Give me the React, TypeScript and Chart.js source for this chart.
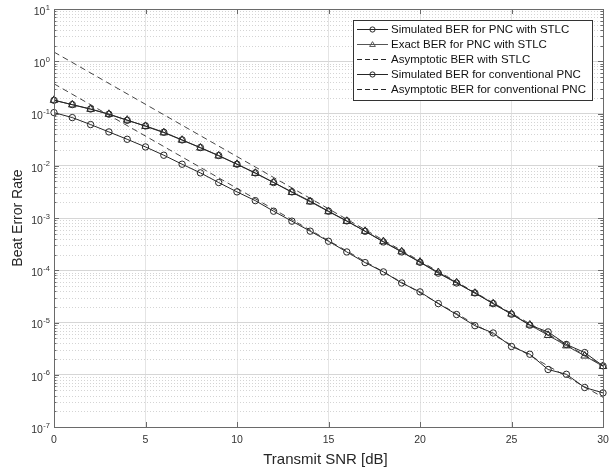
import { useEffect, useRef } from 'react';
import { Chart, registerables } from 'chart.js';

Chart.register(...registerables);

// ---------- data ----------
const snr = [0, 1, 2, 3, 4, 5, 6, 7, 8, 9, 10, 11, 12, 13, 14, 15, 16, 17, 18, 19, 20, 21, 22, 23, 24, 25, 26, 27, 28, 29, 30];

const simSTLC = [
  0.179, 0.148, 0.122, 0.097, 0.074, 0.0578, 0.0438, 0.0312, 0.0223, 0.0157,
  0.0107, 0.0073, 0.00477, 0.00316, 0.0021, 0.00135, 8.8e-4, 5.57e-4, 3.48e-4, 2.24e-4,
  1.42e-4, 8.8e-5, 5.7e-5, 3.68e-5, 2.3e-5, 1.44e-5, 8.9e-6, 6.6e-6, 3.8e-6, 2.66e-6,
  1.48e-6,
];

const exactSTLC = [
  0.18, 0.147, 0.121, 0.097, 0.075, 0.057, 0.043, 0.031, 0.022, 0.0155,
  0.0107, 0.0072, 0.0048, 0.0031, 0.00205, 0.00133, 8.7e-4, 5.6e-4, 3.55e-4, 2.27e-4,
  1.44e-4, 9.1e-5, 5.8e-5, 3.65e-5, 2.3e-5, 1.46e-5, 9.0e-6, 5.7e-6, 3.6e-6, 2.3e-6,
  1.45e-6,
];

const simConv = [
  0.104, 0.0835, 0.0614, 0.0444, 0.0321, 0.0229, 0.0159, 0.0107, 0.0073, 0.00477,
  0.00316, 0.00215, 0.00135, 8.7e-4, 5.6e-4, 3.59e-4, 2.24e-4, 1.4e-4, 9.3e-5, 5.7e-5,
  3.85e-5, 2.3e-5, 1.42e-5, 8.7e-6, 6.3e-6, 3.47e-6, 2.47e-6, 1.26e-6, 1.02e-6, 5.7e-7,
  4.5e-7,
];

const asymX = [0, 30];
const asymSTLC = [1.5, 1.5e-6];
const asymConv = [0.37, 3.7e-7];

const xTicks = [0, 5, 10, 15, 20, 25, 30];
const yDecades = [-7, -6, -5, -4, -3, -2, -1, 0, 1];
const yMinorMult = [2, 3, 4, 5, 6, 7, 8, 9];

const legendLabels = [
  'Simulated BER for PNC with STLC',
  'Exact BER for PNC with STLC',
  'Asymptotic BER with STLC',
  'Simulated BER for conventional PNC',
  'Asymptotic BER for conventional PNC',
];

const xTitle = 'Transmit SNR [dB]';
const yTitle = 'Beat Error Rate';

const FONT = "'Liberation Sans', Arial, Helvetica, sans-serif";
const LINE = '#262626';
const AXIS = '#6a6a6a';
const TEXT = '#333333';

const pts = (xs: number[], ys: number[]) => xs.map((x, i) => ({ x, y: ys[i] }));

type LegendItem = { label: string; dash: boolean; marker: 'circle' | 'triangle' | null; color: string };

const legendItems: LegendItem[] = [
  { label: legendLabels[0], dash: false, marker: 'circle', color: LINE },
  { label: legendLabels[1], dash: false, marker: 'triangle', color: '#555555' },
  { label: legendLabels[2], dash: true, marker: null, color: LINE },
  { label: legendLabels[3], dash: false, marker: 'circle', color: LINE },
  { label: legendLabels[4], dash: true, marker: null, color: LINE },
];

function drawMarker(ctx: CanvasRenderingContext2D, kind: 'circle' | 'triangle', x: number, y: number, r: number) {
  ctx.beginPath();
  if (kind === 'circle') {
    ctx.arc(x, y, r, 0, Math.PI * 2);
  } else {
    ctx.moveTo(x, y - r * 1.1);
    ctx.lineTo(x + r * 1.1, y + r * 0.75);
    ctx.lineTo(x - r * 1.1, y + r * 0.75);
    ctx.closePath();
  }
  ctx.stroke();
}

const matlabPlugin = {
  id: 'matlabStyle',
  beforeDatasetsDraw(chart: any) {
    const { ctx, chartArea } = chart;
    const ys = chart.scales.y;
    ctx.save();
    ctx.strokeStyle = '#d4d4d4';
    ctx.lineWidth = 1;
    ctx.setLineDash([1, 2]);
    for (const e of yDecades) {
      if (e >= 1) continue;
      for (const m of yMinorMult) {
        const py = Math.round(ys.getPixelForValue(m * Math.pow(10, e))) + 0.5;
        ctx.beginPath();
        ctx.moveTo(chartArea.left, py);
        ctx.lineTo(chartArea.right, py);
        ctx.stroke();
      }
    }
    ctx.restore();
  },
  afterDraw(chart: any) {
    const { ctx, chartArea } = chart;
    const xs = chart.scales.x;
    const ys = chart.scales.y;
    const { left, right, top, bottom } = chartArea;
    ctx.save();

    // axes box
    ctx.strokeStyle = AXIS;
    ctx.lineWidth = 1;
    ctx.setLineDash([]);
    ctx.strokeRect(Math.round(left) + 0.5, Math.round(top) + 0.5, Math.round(right - left), Math.round(bottom - top));

    // ticks
    ctx.beginPath();
    for (const t of xTicks) {
      const px = Math.round(xs.getPixelForValue(t)) + 0.5;
      ctx.moveTo(px, bottom);
      ctx.lineTo(px, bottom - 5);
      ctx.moveTo(px, top);
      ctx.lineTo(px, top + 5);
    }
    for (const e of yDecades) {
      const py = Math.round(ys.getPixelForValue(Math.pow(10, e))) + 0.5;
      ctx.moveTo(left, py);
      ctx.lineTo(left + 5, py);
      ctx.moveTo(right, py);
      ctx.lineTo(right - 5, py);
      if (e < 1) {
        for (const m of yMinorMult) {
          const pm = Math.round(ys.getPixelForValue(m * Math.pow(10, e))) + 0.5;
          ctx.moveTo(left, pm);
          ctx.lineTo(left + 2.5, pm);
          ctx.moveTo(right, pm);
          ctx.lineTo(right - 2.5, pm);
        }
      }
    }
    ctx.stroke();

    // x tick labels
    ctx.fillStyle = TEXT;
    ctx.font = `10.5px ${FONT}`;
    ctx.textAlign = 'center';
    ctx.textBaseline = 'middle';
    for (const t of xTicks) {
      ctx.fillText(String(t), xs.getPixelForValue(t), bottom + 13);
    }

    // y tick labels 10^e
    const labelRight = left - 4;
    for (const e of yDecades) {
      const py = ys.getPixelForValue(Math.pow(10, e));
      const sup = e < 0 ? '-' + String(-e) : String(e);
      ctx.font = `7.5px ${FONT}`;
      const sw = ctx.measureText(sup).width;
      ctx.textAlign = 'left';
      ctx.textBaseline = 'middle';
      ctx.fillText(sup, labelRight - sw, py - 1.5);
      ctx.font = `10.5px ${FONT}`;
      ctx.textAlign = 'right';
      ctx.fillText('10', labelRight - sw - 0.5, py + 3);
    }

    // axis titles
    ctx.font = `15px ${FONT}`;
    ctx.textAlign = 'center';
    ctx.textBaseline = 'middle';
    ctx.fillStyle = '#262626';
    ctx.fillText(xTitle, (left + right) / 2 - 3, 460);
    ctx.save();
    ctx.translate(18, (top + bottom) / 2);
    ctx.rotate(-Math.PI / 2);
    ctx.font = `14px ${FONT}`;
    ctx.fillText(yTitle, 0, 0);
    ctx.restore();

    // legend
    const lx = 353.5, ly = 20.5, lw = 239, lh = 80;
    ctx.fillStyle = '#ffffff';
    ctx.fillRect(lx, ly, lw, lh);
    ctx.strokeStyle = '#333333';
    ctx.lineWidth = 1;
    ctx.strokeRect(lx, ly, lw, lh);
    ctx.font = `11.5px ${FONT}`;
    ctx.textAlign = 'left';
    ctx.textBaseline = 'middle';
    legendItems.forEach((it, i) => {
      const y = Math.round(ly + 8.5 + i * 15) + 0.5;
      ctx.strokeStyle = it.color;
      ctx.lineWidth = 1;
      ctx.setLineDash(it.dash ? [5, 3] : []);
      ctx.beginPath();
      ctx.moveTo(357, y);
      ctx.lineTo(388, y);
      ctx.stroke();
      ctx.setLineDash([]);
      if (it.marker) {
        ctx.fillStyle = '#ffffff';
        drawMarker(ctx, it.marker, 372.5, y, 2.6);
      }
      ctx.fillStyle = '#111111';
      ctx.fillText(it.label, 391, y + 0.5);
    });

    ctx.restore();
  },
};

export default function App() {
  const ref = useRef<HTMLCanvasElement>(null);

  useEffect(() => {
    const canvas = ref.current;
    if (!canvas) return;
    const chart = new Chart(canvas, {
      type: 'line',
      data: {
        datasets: [
          {
            label: legendLabels[0],
            data: pts(snr, simSTLC),
            borderColor: LINE,
            borderWidth: 1,
            pointStyle: 'circle',
            pointRadius: 3.2,
            pointBorderWidth: 1,
            pointBorderColor: LINE,
            pointBackgroundColor: 'rgba(0,0,0,0)',
            clip: false as any,
          },
          {
            label: legendLabels[1],
            data: pts(snr, exactSTLC),
            borderColor: '#3a3a3a',
            borderWidth: 1,
            pointStyle: 'triangle',
            pointRadius: 4.4,
            pointBorderWidth: 1,
            pointBorderColor: '#2a2a2a',
            pointBackgroundColor: 'rgba(0,0,0,0)',
            clip: false as any,
          },
          {
            label: legendLabels[2],
            data: pts(asymX, asymSTLC),
            borderColor: '#444444',
            borderWidth: 1,
            borderDash: [6, 4],
            pointRadius: 0,
            clip: false as any,
          },
          {
            label: legendLabels[3],
            data: pts(snr, simConv),
            borderColor: LINE,
            borderWidth: 1,
            pointStyle: 'circle',
            pointRadius: 3.2,
            pointBorderWidth: 1,
            pointBorderColor: LINE,
            pointBackgroundColor: 'rgba(0,0,0,0)',
            clip: false as any,
          },
          {
            label: legendLabels[4],
            data: pts(asymX, asymConv),
            borderColor: '#444444',
            borderWidth: 1,
            borderDash: [6, 4],
            pointRadius: 0,
            clip: false as any,
          },
        ],
      },
      options: {
        responsive: false,
        animation: false,
        devicePixelRatio: 1,
        events: [],
        layout: { padding: { left: 54, right: 13, top: 9, bottom: 42 } },
        plugins: {
          legend: { display: false },
          tooltip: { enabled: false },
          title: { display: false },
        },
        scales: {
          x: {
            type: 'linear',
            min: 0,
            max: 30,
            ticks: { display: false, stepSize: 5 },
            afterBuildTicks: (scale: any) => {
              scale.ticks = xTicks.map((v) => ({ value: v }));
            },
            grid: { color: '#e4e4e4', lineWidth: 1, drawTicks: false },
            border: { display: false },
          },
          y: {
            type: 'logarithmic',
            min: 1e-7,
            max: 10,
            ticks: { display: false },
            afterBuildTicks: (scale: any) => {
              scale.ticks = yDecades.map((e) => ({ value: Math.pow(10, e), major: true }));
            },
            grid: { color: '#d6d6d6', lineWidth: 1, drawTicks: false },
            border: { display: false },
          },
        },
      },
      plugins: [matlabPlugin],
    });
    return () => chart.destroy();
  }, []);

  return (
    <div style={{ position: 'absolute', left: 0, top: 0, width: 616, height: 469, background: '#ffffff' }}>
      <canvas ref={ref} width={616} height={469} style={{ display: 'block', width: 616, height: 469 }} />
    </div>
  );
}
